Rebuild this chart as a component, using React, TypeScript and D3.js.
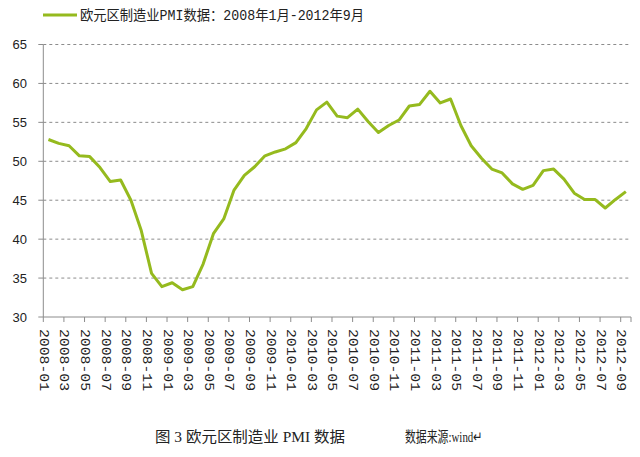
import React from "react";
import * as d3 from "d3";

const months: string[] = [];
for (let y = 2008; y <= 2012; y++) {
  for (let m = 1; m <= 12; m++) {
    if (y === 2012 && m > 9) break;
    months.push(`${y}-${m < 10 ? "0" + m : m}`);
  }
}

const pmi2008 = [52.8, 52.3, 52.0, 50.7, 50.6, 49.2, 47.4, 47.6, 45.0, 41.1, 35.6, 33.9];
const pmi2009 = [34.4, 33.5, 33.9, 36.8, 40.7, 42.6, 46.3, 48.2, 49.3, 50.7, 51.2, 51.6];
const pmi2010 = [52.4, 54.2, 56.6, 57.6, 55.8, 55.6, 56.7, 55.1, 53.7, 54.6, 55.3, 57.1];
const pmi2011 = [57.3, 59.0, 57.5, 58.0, 54.6, 52.0, 50.4, 49.0, 48.5, 47.1, 46.4, 46.9];
const pmi2012 = [48.8, 49.0, 47.7, 45.9, 45.1, 45.1, 44.0, 45.1, 46.1];
const pmi = [...pmi2008, ...pmi2009, ...pmi2010, ...pmi2011, ...pmi2012];

const yTicks = [30, 35, 40, 45, 50, 55, 60, 65];
const legendLabel = "欧元区制造业PMI数据：2008年1月-2012年9月";
const captionLeft = "图 3 欧元区制造业 PMI 数据";
const captionRight = "数据来源:wind↵";

export default function App() {
  const W = 640, H = 457;
  const left = 43.3, right = 631, top = 44.5, bottom = 317;
  const x = d3.scaleBand<string>().domain(months).range([left, right]).padding(0);
  const y = d3.scaleLinear().domain([30, 65]).range([bottom, top]);
  const bw = x.bandwidth();
  const line = d3
    .line<number>()
    .x((_, i) => (x(months[i]) as number) + bw / 2)
    .y((d) => y(d));
  const green = "#95BA1E";
  const grey = "#8c8c8c";
  const tickIdx = months.map((_, i) => i).filter((i) => i % 2 === 0);
  const mixedFont = "'Liberation Mono', 'Noto Sans CJK SC', monospace";
  const serifFont = "'Liberation Serif', 'Noto Sans CJK SC', serif";

  return (
    <svg width={W} height={H} style={{ position: "absolute", left: 0, top: 0, background: "#fff" }}>
      <rect x={0} y={0} width={W} height={H} fill="#fff" />
      {/* legend */}
      <line x1={43} x2={77} y1={15} y2={15} stroke={green} strokeWidth={3} />
      <text
        x={80}
        y={20}
        fontSize={14}
        fontFamily={mixedFont}
        fill="#222"
        textLength={284}
        lengthAdjust="spacingAndGlyphs"
      >
        {legendLabel}
      </text>
      {/* gridlines */}
      {yTicks
        .filter((t) => t !== 30)
        .map((t) => (
          <line
            key={"g" + t}
            x1={left}
            x2={right}
            y1={y(t)}
            y2={y(t)}
            stroke={grey}
            strokeWidth={1}
            strokeDasharray="3,3"
          />
        ))}
      {/* y axis */}
      <line x1={left} x2={left} y1={top} y2={bottom} stroke={grey} strokeWidth={1} />
      {yTicks.map((t) => (
        <g key={"yt" + t}>
          <line x1={left - 5} x2={left} y1={y(t)} y2={y(t)} stroke={grey} strokeWidth={1} />
          <text
            x={27}
            y={y(t) + 4.5}
            textAnchor="end"
            fontSize={13}
            fontFamily="'Liberation Sans', Arial, sans-serif"
            fill="#222"
          >
            {t}
          </text>
        </g>
      ))}
      {/* x axis */}
      <line x1={left} x2={right} y1={bottom} y2={bottom} stroke={grey} strokeWidth={1} />
      {tickIdx.map((i) => {
        const xp = x(months[i]) as number;
        return (
          <g key={"xt" + i}>
            <line x1={xp} x2={xp} y1={bottom} y2={bottom + 5} stroke={grey} strokeWidth={1} />
            <text
              transform={`translate(${xp - 3.5},${329}) rotate(90)`}
              fontSize={13}
              fontFamily="'Liberation Mono', 'DejaVu Sans Mono', monospace"
              fill="#222"
              textLength={62}
              lengthAdjust="spacingAndGlyphs"
            >
              {months[i]}
            </text>
          </g>
        );
      })}
      <line x1={right} x2={right} y1={bottom} y2={bottom + 5} stroke={grey} strokeWidth={1} />
      {/* data line */}
      <path d={line(pmi) || ""} fill="none" stroke={green} strokeWidth={3} strokeLinejoin="round" />
      {/* caption */}
      <text
        x={155}
        y={442}
        fontSize={14.5}
        fontFamily={serifFont}
        fill="#222"
        textLength={190}
        lengthAdjust="spacingAndGlyphs"
      >
        {captionLeft}
      </text>
      <text
        x={405}
        y={442}
        fontSize={14.5}
        fontFamily={serifFont}
        fill="#222"
        textLength={78}
        lengthAdjust="spacingAndGlyphs"
      >
        {captionRight}
      </text>
    </svg>
  );
}
